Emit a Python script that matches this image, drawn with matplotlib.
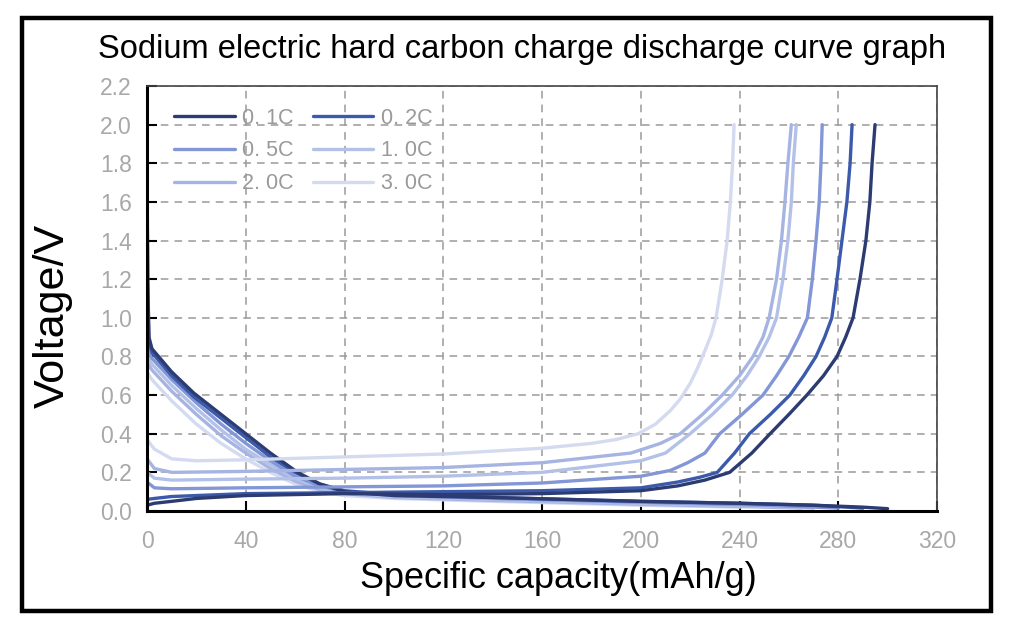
import matplotlib
matplotlib.use("Agg")
import matplotlib.pyplot as plt
from matplotlib.patches import Rectangle

# --- DATA ---
rates = ["0. 1C", "0. 2C", "0. 5C", "1. 0C", "2. 0C", "3. 0C"]
colors = ["#2c3b72", "#3b5aab", "#8396d6", "#b3c0e8", "#a5b4e2", "#d4daef"]

# charge (desodiation) curves: capacity, voltage
chg_cap_01 = [0, 3, 10, 20, 40, 80, 120, 160, 200, 215, 226, 236, 245, 252.4, 260, 267.3, 274, 279.5, 283, 286, 288.8, 291.2, 292.8, 293.7, 294.9]
chg_v_01 = [0.03, 0.04, 0.05, 0.065, 0.08, 0.09, 0.085, 0.09, 0.105, 0.13, 0.16, 0.2, 0.3, 0.4, 0.5, 0.6, 0.7, 0.8, 0.9, 1.0, 1.2, 1.4, 1.6, 1.8, 2.0]

chg_cap_02 = [0, 3, 10, 40, 80, 120, 160, 200, 215, 224, 231, 238, 244, 252.5, 260.4, 266, 271, 274.5, 277.4, 279.5, 281.5, 283.5, 284.8, 285.6]
chg_v_02 = [0.06, 0.065, 0.075, 0.09, 0.095, 0.1, 0.105, 0.12, 0.15, 0.175, 0.2, 0.3, 0.4, 0.5, 0.6, 0.7, 0.8, 0.9, 1.0, 1.2, 1.4, 1.6, 1.8, 2.0]

chg_cap_05 = [0, 3, 10, 40, 80, 120, 160, 200, 212, 219, 226, 232, 241, 249.5, 255, 260, 264, 267.5, 269.5, 271, 272.3, 273, 273.5]
chg_v_05 = [0.15, 0.12, 0.115, 0.12, 0.125, 0.13, 0.145, 0.18, 0.21, 0.25, 0.3, 0.4, 0.5, 0.6, 0.7, 0.8, 0.9, 1.0, 1.2, 1.4, 1.6, 1.8, 2.0]

chg_cap_10 = [0, 3, 10, 40, 80, 120, 160, 200, 210, 220, 229, 237, 243, 248, 252, 255, 257.6, 259.6, 261, 261.8, 263]
chg_v_10 = [0.2, 0.17, 0.16, 0.165, 0.17, 0.18, 0.2, 0.26, 0.3, 0.4, 0.5, 0.6, 0.7, 0.8, 0.9, 1.0, 1.2, 1.4, 1.6, 1.8, 2.0]

chg_cap_20 = [0, 3, 10, 40, 80, 120, 160, 196, 208, 216, 225, 233, 240, 245.5, 249.5, 252, 255, 257, 258.4, 259.6, 261]
chg_v_20 = [0.27, 0.22, 0.2, 0.205, 0.215, 0.225, 0.25, 0.3, 0.35, 0.4, 0.5, 0.6, 0.7, 0.8, 0.9, 1.0, 1.2, 1.4, 1.6, 1.8, 2.0]

chg_cap_30 = [0, 3, 10, 20, 40, 80, 120, 160, 180, 190, 199, 206, 212, 216, 220, 223, 226, 228.5, 230.5, 233, 235, 236.3, 237.2, 237.8]
chg_v_30 = [0.37, 0.32, 0.27, 0.26, 0.265, 0.28, 0.295, 0.325, 0.35, 0.37, 0.4, 0.45, 0.52, 0.58, 0.66, 0.74, 0.83, 0.91, 1.0, 1.2, 1.4, 1.6, 1.8, 2.0]

# discharge (sodiation) curves: capacity, voltage
dis_cap_01 = [0, 0.3, 0.8, 2, 10, 19, 30, 40, 50, 61, 70, 80, 100, 140, 200, 240, 270, 290, 300]
dis_v_01 = [1.8, 1.2, 0.9, 0.84, 0.72, 0.61, 0.5, 0.4, 0.3, 0.2, 0.14, 0.1, 0.08, 0.07, 0.05, 0.04, 0.03, 0.02, 0.012]

dis_cap_02 = [0, 0.3, 0.8, 2, 10, 19, 30, 40, 50, 60, 70, 80, 100, 140, 200, 240, 270, 290]
dis_v_02 = [1.75, 1.1, 0.87, 0.82, 0.7, 0.59, 0.48, 0.38, 0.28, 0.2, 0.14, 0.105, 0.085, 0.07, 0.05, 0.04, 0.03, 0.015]

dis_cap_05 = [0, 2, 10, 20, 30, 40, 50, 60, 70, 80, 100, 140, 200, 250, 280]
dis_v_05 = [0.84, 0.79, 0.68, 0.56, 0.45, 0.35, 0.26, 0.18, 0.13, 0.1, 0.08, 0.065, 0.045, 0.03, 0.015]

dis_cap_10 = [0, 2, 10, 20, 30, 40, 50, 60, 70, 80, 100, 140, 200, 250, 270]
dis_v_10 = [0.8, 0.76, 0.65, 0.53, 0.42, 0.32, 0.24, 0.17, 0.12, 0.095, 0.075, 0.06, 0.04, 0.025, 0.015]

dis_cap_20 = [0, 2, 10, 20, 30, 40, 50, 60, 70, 80, 100, 140, 200, 250, 265]
dis_v_20 = [0.77, 0.73, 0.62, 0.5, 0.39, 0.3, 0.22, 0.155, 0.11, 0.09, 0.07, 0.055, 0.035, 0.02, 0.015]

dis_cap_30 = [0, 2, 10, 20, 30, 40, 50, 60, 70, 80, 100, 140, 200, 240]
dis_v_30 = [0.72, 0.68, 0.57, 0.45, 0.35, 0.27, 0.2, 0.14, 0.1, 0.08, 0.065, 0.05, 0.03, 0.02]

charge = [(chg_cap_01, chg_v_01), (chg_cap_02, chg_v_02), (chg_cap_05, chg_v_05),
          (chg_cap_10, chg_v_10), (chg_cap_20, chg_v_20), (chg_cap_30, chg_v_30)]
discharge = [(dis_cap_01, dis_v_01), (dis_cap_02, dis_v_02), (dis_cap_05, dis_v_05),
             (dis_cap_10, dis_v_10), (dis_cap_20, dis_v_20), (dis_cap_30, dis_v_30)]

x_ticks = [0, 40, 80, 120, 160, 200, 240, 280, 320]
y_ticks = [0.0, 0.2, 0.4, 0.6, 0.8, 1.0, 1.2, 1.4, 1.6, 1.8, 2.0, 2.2]

# --- FIGURE ---
SANS = ["Liberation Sans", "DejaVu Sans"]
fig = plt.figure(figsize=(10.24, 6.36), dpi=100)
ax = fig.add_axes([147 / 1024, 125 / 636, 790 / 1024, 425 / 636])

# light curves first so the dark ones sit on top
for i in reversed(range(len(rates))):
    ax.plot(*discharge[i], color=colors[i], lw=2.4, solid_capstyle="round",
            solid_joinstyle="round")
lines = {}
for i in reversed(range(len(rates))):
    lines[rates[i]], = ax.plot(*charge[i], color=colors[i], lw=2.4,
                               solid_capstyle="round", solid_joinstyle="round")

ax.set_xlim(0, 320)
ax.set_ylim(0, 2.2)
ax.set_xticks(x_ticks)
ax.set_yticks(y_ticks)
ax.set_xticklabels([str(v) for v in x_ticks], family=SANS, fontsize=16.5)
ax.set_yticklabels([f"{v:.1f}" for v in y_ticks], family=SANS, fontsize=16.5)
ax.grid(True, color="#9a9a9a", ls=(0, (5, 4)), lw=1.1)
ax.tick_params(direction="in", length=7, width=1.5, color="black",
               labelcolor="#a8a8a8")
ax.tick_params(axis="x", pad=14)
ax.tick_params(axis="y", pad=11)
ax.tick_params(top=False, right=False)
for s in ["left", "bottom"]:
    ax.spines[s].set_linewidth(2.2)
    ax.spines[s].set_color("black")
for s in ["top", "right"]:
    ax.spines[s].set_linewidth(1.2)
    ax.spines[s].set_color("#444444")

# legend filled row by row (matplotlib fills columns first)
leg_order = ["0. 1C", "0. 5C", "2. 0C", "0. 2C", "1. 0C", "3. 0C"]
ax.legend([lines[r] for r in leg_order], leg_order, ncol=2,
          loc="upper left", bbox_to_anchor=(0.01, 0.995), frameon=False,
          handlelength=2.8, handletextpad=0.35, columnspacing=0.9,
          labelspacing=0.55, prop={"size": 15.5, "family": SANS},
          labelcolor="#9a9a9a")

fig.text(0.51, 0.922, "Sodium electric hard carbon charge discharge curve graph",
         ha="center", va="center", fontsize=23.5, family=SANS)
fig.text(0.052, 0.503, "Voltage/V", rotation=90, ha="center", va="center",
         fontsize=31, family=SANS)
fig.text(0.545, 0.091, "Specific capacity(mAh/g)", ha="center", va="center",
         fontsize=26, family=SANS)

# outer black frame
fig.patches.append(Rectangle((22 / 1024, 25 / 636), 969 / 1024, 593 / 636,
                             transform=fig.transFigure, fill=False,
                             edgecolor="black", lw=3.2))

fig.savefig("out.png", dpi=100)
